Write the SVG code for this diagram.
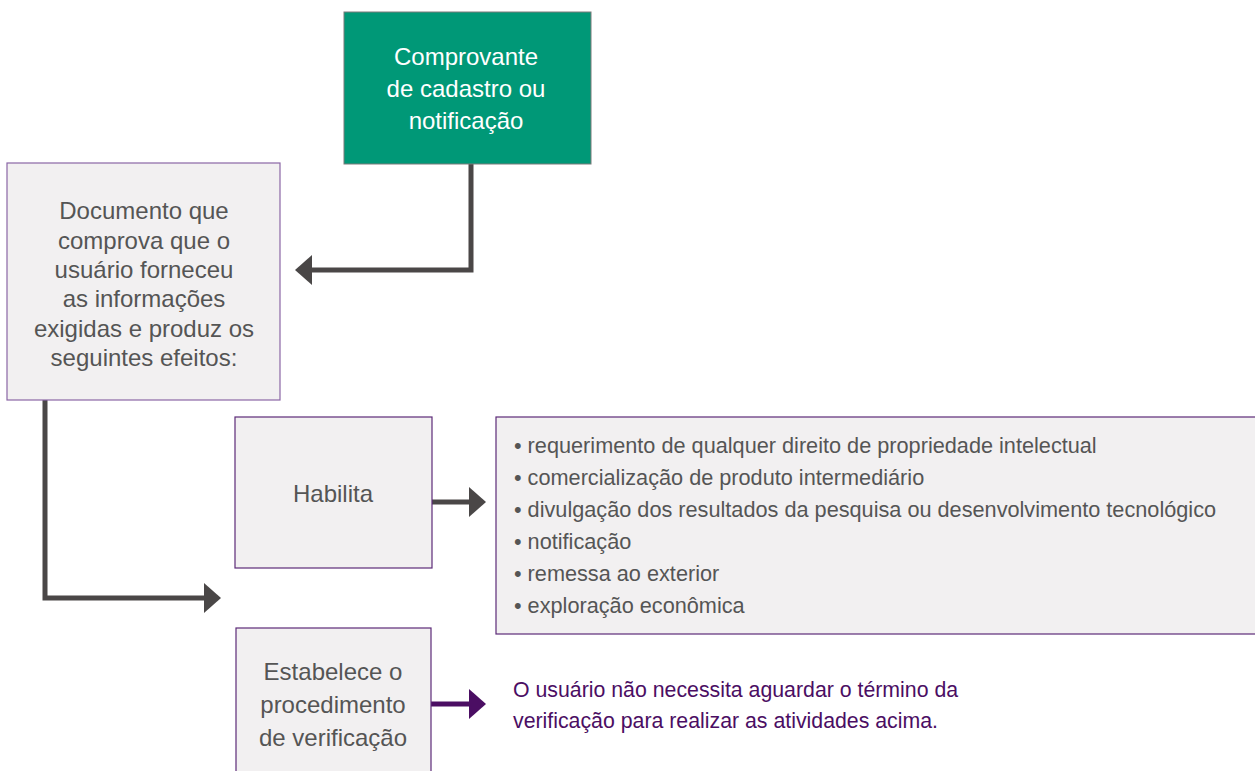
<svg xmlns="http://www.w3.org/2000/svg" width="1255" height="771" viewBox="0 0 1255 771">
<style>
.box{fill:#f2f0f1;stroke:#5c2a78;stroke-width:1.2}
.t{font-family:"Liberation Sans",Arial,sans-serif;font-size:24px;fill:#555;text-anchor:middle}
.g{font-family:"Liberation Sans",Arial,sans-serif;font-size:24px;fill:#fff;text-anchor:middle}
.l{font-family:"Liberation Sans",Arial,sans-serif;font-size:21.7px;fill:#555}
.p{font-family:"Liberation Sans",Arial,sans-serif;font-size:21.3px;fill:#4b0e63}
.c{fill:none;stroke:#4a4747;stroke-width:5}
.cp{fill:none;stroke:#4b0e63;stroke-width:5}
</style>
<rect width="1255" height="771" fill="#fff"/>
<g id="connectors">
<polyline class="c" points="471,164 471,270 310,270"/>
<polygon fill="#4a4747" points="295,270 312,255 312,285"/>
<polyline class="c" points="45,400 45,598 205,598"/>
<polygon fill="#4a4747" points="221,598 204,583 204,613"/>
<line class="c" x1="432" y1="502" x2="470" y2="502"/>
<polygon fill="#4a4747" points="486,502 469,487 469,517"/>
<line class="cp" x1="431" y1="704" x2="470" y2="704"/>
<polygon fill="#4b0e63" points="486,704 469,689 469,719"/>
</g>
<g id="comprovante">
<rect x="344" y="12" width="247" height="152" fill="#009877" stroke="#7a7a7a" stroke-width="1"/>
<text class="g" x="466" y="65">Comprovante</text>
<text class="g" x="466" y="97">de cadastro ou</text>
<text class="g" x="466" y="129">notificação</text>
</g>
<g id="documento">
<rect class="box" x="7" y="163" width="273" height="237" style="stroke:#8a66a6"/>
<text class="t" x="144" y="219">Documento que</text>
<text class="t" x="144" y="249">comprova que o</text>
<text class="t" x="144" y="278">usuário forneceu</text>
<text class="t" x="144" y="307">as informações</text>
<text class="t" x="144" y="337">exigidas e produz os</text>
<text class="t" x="144" y="366">seguintes efeitos:</text>
</g>
<g id="habilita">
<rect class="box" x="235" y="417" width="197" height="151"/>
<text class="t" x="333" y="502">Habilita</text>
</g>
<g id="lista">
<rect class="box" x="496" y="417" width="760" height="217"/>
<text class="l" x="514" y="453">• requerimento de qualquer direito de propriedade intelectual</text>
<text class="l" x="514" y="485">• comercialização de produto intermediário</text>
<text class="l" x="514" y="517">• divulgação dos resultados da pesquisa ou desenvolvimento tecnológico</text>
<text class="l" x="514" y="549">• notificação</text>
<text class="l" x="514" y="581">• remessa ao exterior</text>
<text class="l" x="514" y="613">• exploração econômica</text>
</g>
<g id="estabelece">
<rect class="box" x="236" y="628" width="195" height="150"/>
<text class="t" x="333" y="680">Estabelece o</text>
<text class="t" x="333" y="713">procedimento</text>
<text class="t" x="333" y="746">de verificação</text>
</g>
<g id="nota">
<text class="p" x="513" y="697">O usuário não necessita aguardar o término da</text>
<text class="p" x="513" y="728">verificação para realizar as atividades acima.</text>
</g>
</svg>
